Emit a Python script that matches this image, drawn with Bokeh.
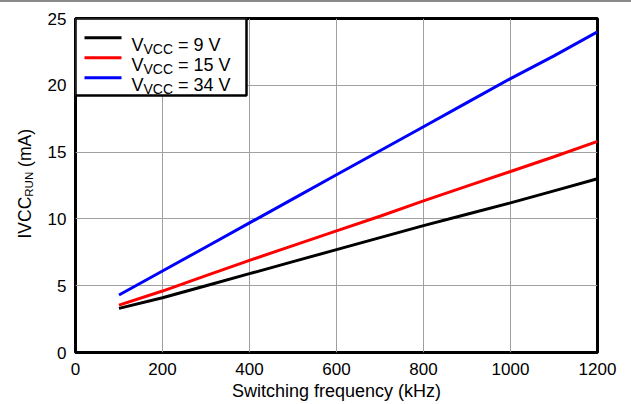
from math import pi
from bokeh.plotting import figure
from bokeh.models import Range1d, Label, BoxAnnotation, Div
from bokeh.layouts import row, column
from bokeh.embed import file_html
from bokeh.resources import INLINE

# ---------------- data ----------------
freq_khz = [100, 200, 300, 400, 500, 600, 700, 800, 900, 1000, 1100, 1200]
ivcc_9v = [3.3, 4.1, 5.0, 5.9, 6.8, 7.7, 8.6, 9.5, 10.35, 11.2, 12.1, 13.0]
ivcc_15v = [3.55, 4.6, 5.75, 6.9, 8.0, 9.1, 10.2, 11.35, 12.45, 13.55, 14.65, 15.8]
ivcc_34v = [4.3, 6.1, 7.9, 9.7, 11.5, 13.3, 15.1, 16.9, 18.7, 20.5, 22.2, 24.0]
series_values = [ivcc_9v, ivcc_15v, ivcc_34v]
series_voltage = ["9 V", "15 V", "34 V"]
series_colors = ["#000000", "#ff0000", "#0000ff"]
x_ticks = [0, 200, 400, 600, 800, 1000, 1200]
y_ticks = [0, 5, 10, 15, 20, 25]
x_title = "Switching frequency (kHz)"

# ---------------- layout (page pixels) ----------------
FONT = "Liberation Sans"
PAGE_W = 631
TOP_RULE = 2                      # grey rule at the very top of the page
FIG_H = 402
LEFT_W = 40                       # strip holding the rotated y title
MAIN_W = PAGE_W - LEFT_W
FL, FR, FT, FB = 75, 597, 18, 352  # frame edges in page px
X0, X1, Y0, Y1 = 0, 1200, 0, 25
BORDER_TOP = FT - TOP_RULE
BORDER_BOTTOM = FIG_H + TOP_RULE - FB

def X(px):   # page px -> data x
    return X0 + (px - FL) / (FR - FL) * (X1 - X0)

def Y(py):   # page px -> data y
    return Y0 + (FB - py) / (FB - FT) * (Y1 - Y0)

# Arial / Liberation Sans advance widths (em)
ADV = {"V": .667, "C": .722, " ": .278, "=": .584, "R": .722, "U": .722,
       "N": .722, "I": .278, "(": .333, ")": .333, "m": .833, "A": .667}
for d in "0123456789":
    ADV[d] = .556

def tw(s, size):
    return sum(ADV.get(c, .556) for c in s) * size

# ---------------- main figure ----------------
p = figure(width=MAIN_W, height=FIG_H, x_range=Range1d(X0, X1), y_range=Range1d(Y0, Y1),
           output_backend="svg", toolbar_location=None,
           min_border_left=FL - LEFT_W, min_border_right=PAGE_W - FR,
           min_border_top=BORDER_TOP, min_border_bottom=BORDER_BOTTOM)
p.background_fill_color = "white"
p.border_fill_color = "white"
p.outline_line_color = "black"
p.outline_line_width = 3
p.outline_line_alpha = 1.0

for ax in (p.xaxis, p.yaxis):
    ax.axis_line_color = None
    ax.major_tick_line_color = None
    ax.minor_tick_line_color = None
    ax.major_tick_out = 0
    ax.major_tick_in = 0
    ax.major_label_text_font = FONT
    ax.major_label_text_font_size = "17px"
    ax.major_label_text_color = "black"
p.xaxis.ticker = x_ticks
p.yaxis.ticker = y_ticks
p.xaxis.major_label_standoff = 10
p.yaxis.major_label_standoff = 9
p.xaxis.axis_label = x_title
p.xaxis.axis_label_text_font = FONT
p.xaxis.axis_label_text_font_size = "18px"
p.xaxis.axis_label_text_font_style = "normal"
p.xaxis.axis_label_text_color = "black"
p.xaxis.axis_label_standoff = 3

p.xgrid.ticker = x_ticks
p.ygrid.ticker = y_ticks
for g in (p.xgrid, p.ygrid):
    g.grid_line_color = "#a0a0a0"
    g.grid_line_width = 1

for vals, col in zip(series_values, series_colors):
    p.line(freq_khz, vals, line_color=col, line_width=3)

# ---------------- legend ----------------
box = BoxAnnotation(left=X(FL), right=X(246), top=Y(FT), bottom=Y(95),
                    fill_color="white", fill_alpha=1.0,
                    line_color="black", line_width=2.5, line_alpha=1.0)
p.add_layout(box)

row_base = [44.7, 64.7, 84.7]
key_mid = [37.3, 57.3, 77.3]
seg = p.segment(x0=[X(84)] * 3, x1=[X(121)] * 3,
                y0=[Y(v) for v in key_mid], y1=[Y(v) for v in key_mid],
                line_color=series_colors, line_width=3)
seg.level = "overlay"

TX = 131
for base, volt in zip(row_base, series_voltage):
    x = TX
    p.add_layout(Label(x=X(x), y=Y(base), text="V", text_font=FONT,
                       text_font_size="18px", text_baseline="alphabetic",
                       text_align="left", text_color="black", level="overlay"))
    x += tw("V", 18)
    p.add_layout(Label(x=X(x), y=Y(base + 3.5), text="VCC", text_font=FONT,
                       text_font_size="14px", text_baseline="alphabetic",
                       text_align="left", text_color="black", level="overlay"))
    x += tw("VCC", 14) + tw(" ", 18)
    p.add_layout(Label(x=X(x), y=Y(base), text="= " + volt, text_font=FONT,
                       text_font_size="18px", text_baseline="alphabetic",
                       text_align="left", text_color="black", level="overlay"))

# ---------------- y title strip (data units = page px) ----------------
# its frame spans the same rows as the main frame, so page y maps 1:1
t = figure(width=LEFT_W, height=FIG_H, x_range=Range1d(0, LEFT_W),
           y_range=Range1d(FB, FT),
           x_axis_location=None, y_axis_location=None,
           output_backend="svg", toolbar_location=None, title=None,
           min_border_left=0, min_border_right=0,
           min_border_top=BORDER_TOP, min_border_bottom=BORDER_BOTTOM)
t.grid.visible = False
t.outline_line_color = None
t.background_fill_color = "white"
t.border_fill_color = "white"

MAIN_PX = 17.5
SUB_PX = 11.5
y_start = 238.0            # bottom end of the rotated title
main_cx = 24.0             # centre line of the main text
sub_cx = 28.8              # centre line of the subscript
pieces = [("IVCC", MAIN_PX, main_cx, 0.0),
          ("RUN", SUB_PX, sub_cx, 0.0),
          ("(mA)", MAIN_PX, main_cx, tw(" ", MAIN_PX))]
ycur = y_start
for txt, size, cx, gap in pieces:
    ycur -= gap
    L = tw(txt, size)
    t.add_layout(Label(x=cx, y=ycur - L / 2, text=txt, angle=pi / 2, text_font=FONT,
                       text_font_size=f"{size}px", text_baseline="middle",
                       text_align="center", text_color="black"))
    ycur -= L

rule = Div(text="", width=PAGE_W, height=TOP_RULE, margin=0,
           styles={"background-color": "#8a8a8a"})

layout = column(rule, row(t, p, spacing=0), spacing=0)
open("out.html", "w").write(file_html(layout, INLINE))
